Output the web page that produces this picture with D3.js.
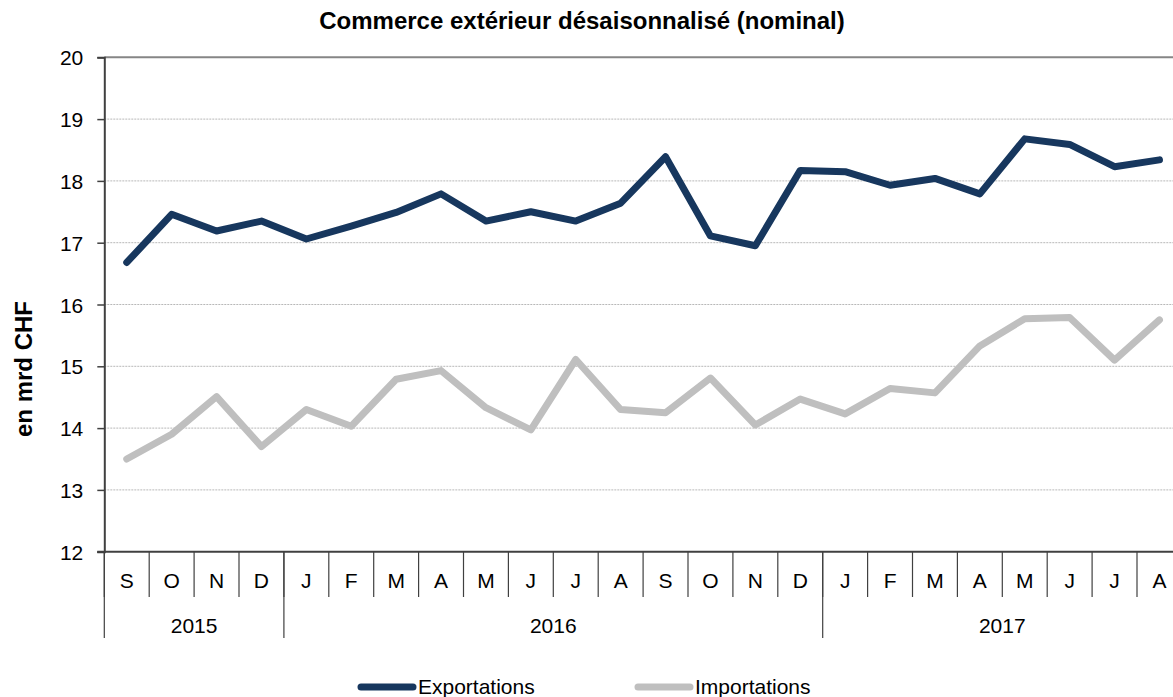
<!DOCTYPE html>
<html>
<head>
<meta charset="utf-8">
<script src="https://cdn.jsdelivr.net/npm/d3@7"></script>
<style>
  body { margin: 0; background: #fff; }
  svg { font-family: "Liberation Sans", Arial, sans-serif; }
</style>
</head>
<body>
<div id="chart"></div>
<script>
// Data
const months = ['S','O','N','D','J','F','M','A','M','J','J','A','S','O','N','D','J','F','M','A','M','J','J','A'];
const years = [
    { label: '2015', start: 0, end: 4 },
    { label: '2016', start: 4, end: 16 },
    { label: '2017', start: 16, end: 24 }
];
const exportations = [16.68, 17.46, 17.19, 17.35, 17.06, 17.27, 17.49, 17.79, 17.35, 17.50, 17.35, 17.64,
                      18.39, 17.11, 16.95, 18.17, 18.15, 17.93, 18.04, 17.79, 18.68, 18.59, 18.23, 18.34];
const importations = [13.50, 13.90, 14.51, 13.70, 14.30, 14.03, 14.79, 14.93, 14.33, 13.97, 15.11, 14.30,
                      14.25, 14.81, 14.05, 14.47, 14.23, 14.64, 14.57, 15.33, 15.77, 15.79, 15.10, 15.75];
const yTicks = [12, 13, 14, 15, 16, 17, 18, 19, 20];

// Dimensions
const dimensions = {
    width: 1173,
    height: 697,
    left: 104.3,
    top: 57.3,
    bottom: 551.7,
    band: 44.9
}

const svg = d3.select('#chart')
    .append('svg')
    .attr('width', dimensions.width)
    .attr('height', dimensions.height)

// Scales
const idx = months.map((d, i) => i)
const xScale = d3.scaleBand()
    .domain(idx)
    .range([dimensions.left, dimensions.left + dimensions.band * months.length])
    .padding(0)

const yScale = d3.scaleLinear()
    .domain([12, 20])
    .range([dimensions.bottom, dimensions.top])

const xEdge = i => dimensions.left + xScale.step() * i
const xMid = i => xScale(i) + xScale.bandwidth() / 2

// Grid
svg.append('g')
    .selectAll('line')
    .data(yTicks.filter(d => d > 12 && d < 20))
    .join('line')
    .attr('x1', dimensions.left)
    .attr('x2', dimensions.width)
    .attr('y1', d => yScale(d))
    .attr('y2', d => yScale(d))
    .attr('stroke', '#b8b8b8')
    .attr('stroke-width', 1)
    .attr('stroke-dasharray', '2,1')

// top border
svg.append('line')
    .attr('x1', dimensions.left).attr('x2', dimensions.width)
    .attr('y1', yScale(20)).attr('y2', yScale(20))
    .attr('stroke', '#868686').attr('stroke-width', 2)

// Y axis
const yAxis = d3.axisLeft(yScale)
    .tickValues(yTicks)
    .tickSize(7)
    .tickPadding(14)
    .tickFormat(d => d)

const yAxisGroup = svg.append('g')
    .attr('transform', `translate(${dimensions.left}, 0)`)
    .call(yAxis)
yAxisGroup.select('.domain').attr('stroke', '#404040').attr('stroke-width', 2)
yAxisGroup.selectAll('.tick line').attr('stroke', '#404040').attr('stroke-width', 1.5)
yAxisGroup.selectAll('.tick text')
    .attr('font-size', 21)
    .attr('dy', '0.36em')
    .attr('fill', '#000')
    .attr('font-family', '"Liberation Sans", Arial, sans-serif')

// X axis: month separators
const xg = svg.append('g')
xg.selectAll('line.month')
    .data(d3.range(months.length + 1))
    .join('line')
    .attr('class', 'month')
    .attr('x1', d => xEdge(d))
    .attr('x2', d => xEdge(d))
    .attr('y1', dimensions.bottom)
    .attr('y2', 597)
    .attr('stroke', '#404040')
    .attr('stroke-width', 1.2)

xg.selectAll('line.year')
    .data(years.map(d => d.start))
    .join('line')
    .attr('class', 'year')
    .attr('x1', d => xEdge(d))
    .attr('x2', d => xEdge(d))
    .attr('y1', dimensions.bottom)
    .attr('y2', 638)
    .attr('stroke', '#404040')
    .attr('stroke-width', 1.2)

xg.append('line')
    .attr('x1', dimensions.left - 7)
    .attr('x2', dimensions.width)
    .attr('y1', dimensions.bottom)
    .attr('y2', dimensions.bottom)
    .attr('stroke', '#404040')
    .attr('stroke-width', 2)

xg.selectAll('text.month')
    .data(months)
    .join('text')
    .attr('class', 'month')
    .attr('x', (d, i) => xMid(i))
    .attr('y', 588)
    .attr('text-anchor', 'middle')
    .attr('font-size', 21)
    .text(d => d)

xg.selectAll('text.year')
    .data(years)
    .join('text')
    .attr('class', 'year')
    .attr('x', d => (xEdge(d.start) + xEdge(d.end)) / 2)
    .attr('y', 633)
    .attr('text-anchor', 'middle')
    .attr('font-size', 21)
    .text(d => d.label)

// Lines
const line = data => d3.line()
    .x((d, i) => xMid(i))
    .y(d => yScale(d))(data)

svg.append('path')
    .attr('d', line(importations))
    .attr('fill', 'none')
    .attr('stroke', '#bfbfbf')
    .attr('stroke-width', 7)
    .attr('stroke-linejoin', 'round')
    .attr('stroke-linecap', 'round')

svg.append('path')
    .attr('d', line(exportations))
    .attr('fill', 'none')
    .attr('stroke', '#17375e')
    .attr('stroke-width', 7)
    .attr('stroke-linejoin', 'round')
    .attr('stroke-linecap', 'round')

// Title
svg.append('text')
    .attr('x', 582)
    .attr('y', 29)
    .attr('text-anchor', 'middle')
    .attr('font-size', 24)
    .attr('font-weight', 'bold')
    .text('Commerce extérieur désaisonnalisé (nominal)')

svg.append('text')
    .attr('transform', `translate(32, 369) rotate(-90)`)
    .attr('text-anchor', 'middle')
    .attr('font-size', 24)
    .attr('font-weight', 'bold')
    .text('en mrd CHF')

// Legend
const legend = [
    { name: 'Exportations', color: '#17375e', x: 358 },
    { name: 'Importations', color: '#bfbfbf', x: 635 }
]
const lg = svg.append('g').selectAll('g')
    .data(legend)
    .join('g')
    .attr('transform', d => `translate(${d.x}, 687)`)
lg.append('line')
    .attr('x1', 3).attr('x2', 55)
    .attr('y1', 0).attr('y2', 0)
    .attr('stroke', d => d.color)
    .attr('stroke-width', 7)
    .attr('stroke-linecap', 'round')
lg.append('text')
    .attr('x', 60)
    .attr('y', 7)
    .attr('font-size', 21)
    .text(d => d.name)
</script>
</body>
</html>
